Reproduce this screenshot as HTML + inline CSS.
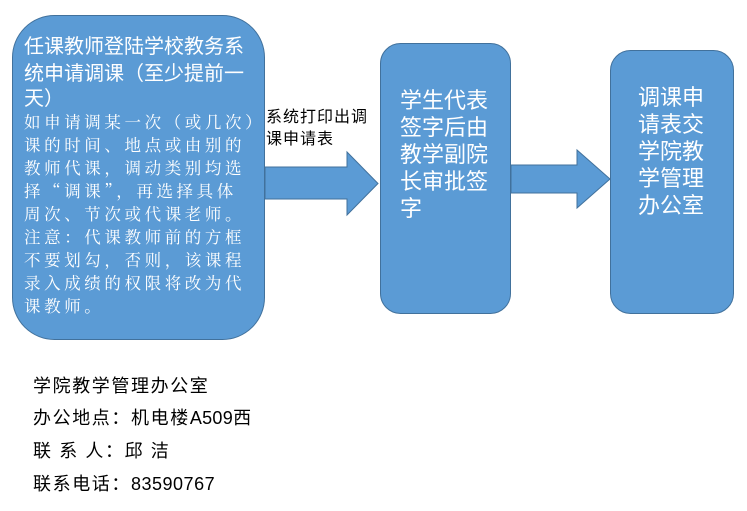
<!DOCTYPE html>
<html><head><meta charset="utf-8"><style>
body{margin:0;background:#fff;width:747px;height:506px;overflow:hidden}
svg text{font-family:"Liberation Sans","Noto Sans CJK SC",sans-serif}
svg text.s{font-family:"Noto Serif CJK SC","Liberation Serif",serif;letter-spacing:3.6px;font-size:16.5px}
</style></head><body>
<svg width="747" height="506" viewBox="0 0 747 506" xmlns="http://www.w3.org/2000/svg">
<g fill="#5b9bd5" stroke="#41719c" stroke-width="1">
<rect x="12.5" y="15.5" width="252" height="324" rx="42"/>
<path d="M265 167 H347 V152 L378 183.5 L347 215 V199 H265 Z"/>
<rect x="380.5" y="43.5" width="130" height="270" rx="20"/>
<path d="M511 165 H577 V150 L610 179 L577 208 V193 H511 Z"/>
<rect x="610.5" y="50.5" width="123" height="263" rx="20"/>
</g>
<g fill="#fff" font-size="20">
<text x="24" y="53">任课教师登陆学校教务系</text>
<text x="24" y="80">统申请调课（至少提前一</text>
<text x="24" y="105">天）</text>
</g>
<g fill="#fff">
<text class="s" x="24" y="128">如申请调某一次（或几次）</text>
<text class="s" x="24" y="151">课的时间、地点或由别的</text>
<text class="s" x="24" y="174">教师代课，调动类别均选</text>
<text class="s" x="24" y="197">择“调课”，再选择具体</text>
<text class="s" x="24" y="220">周次、节次或代课老师。</text>
<text class="s" x="24" y="243">注意：代课教师前的方框</text>
<text class="s" x="24" y="266">不要划勾，否则，该课程</text>
<text class="s" x="24" y="289">录入成绩的权限将改为代</text>
<text class="s" x="24" y="312">课教师。</text>
</g>
<g fill="#000" font-size="16" letter-spacing="1">
<text x="266" y="122">系统打印出调</text>
<text x="266" y="144">课申请表</text>
</g>
<g fill="#fff" font-size="22">
<text x="400" y="108">学生代表</text>
<text x="400" y="135">签字后由</text>
<text x="400" y="162">教学副院</text>
<text x="400" y="189">长审批签</text>
<text x="400" y="216">字</text>
<text x="638" y="105">调课申</text>
<text x="638" y="132">请表交</text>
<text x="638" y="159">学院教</text>
<text x="638" y="186">学管理</text>
<text x="638" y="213">办公室</text>
</g>
<g fill="#000" font-size="18" letter-spacing="1.6">
<text x="33" y="392">学院教学管理办公室</text>
<text x="33" y="424">办公地点：机电楼<tspan letter-spacing="0.3">A509</tspan>西</text>
<text x="33" y="457">联 系 人：邱 洁</text>
<text x="33" y="490">联系电话：<tspan letter-spacing="0.5">83590767</tspan></text>
</g>
</svg>
</body></html>
